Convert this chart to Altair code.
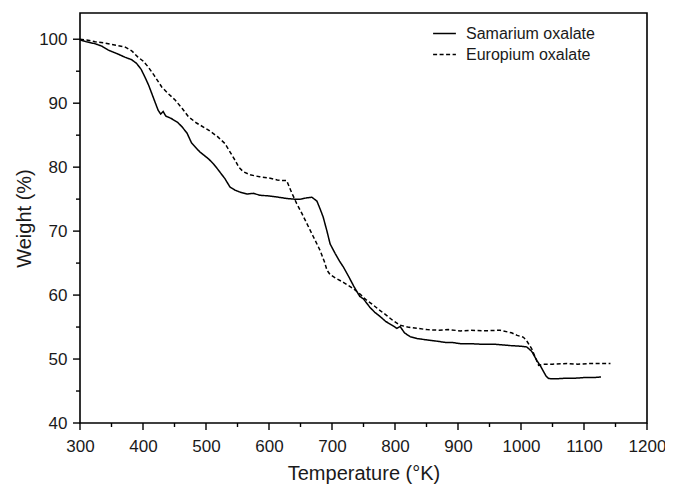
import altair as alt
import pandas as pd

# Samarium oxalate (solid line)
sm_temp = [300, 310, 324, 335, 345, 360, 371, 382, 390, 397, 403, 409, 414, 419, 424, 428,
           432, 436, 445, 455, 462, 470, 477, 490, 504, 512, 520, 530, 538, 546, 554, 565,
           575, 586, 600, 615, 628, 640, 650, 660, 668, 676, 681, 686, 692, 697, 705, 712,
           718, 727, 735, 744, 750, 760, 768, 777, 785, 795, 803, 808, 815, 824, 835, 850,
           866, 880, 890, 904, 920, 940, 960, 983, 1000, 1009, 1017, 1025, 1031, 1036, 1040,
           1044, 1055, 1070, 1085, 1100, 1115, 1127]
sm_weight = [99.9, 99.6, 99.3, 98.9, 98.3, 97.7, 97.2, 96.8, 96.2, 95.3, 94.1, 92.8, 91.5, 90.2,
             88.9, 88.3, 88.7, 88.0, 87.6, 87.0, 86.3, 85.3, 83.8, 82.4, 81.3, 80.5, 79.5, 78.2,
             76.9, 76.4, 76.1, 75.8, 75.9, 75.6, 75.5, 75.3, 75.1, 75.0, 75.0, 75.2, 75.3, 74.7,
             73.5, 72.2, 70.0, 68.0, 66.5, 65.3, 64.4, 62.8, 61.3, 59.8, 59.4, 58.1, 57.3, 56.6,
             55.9, 55.3, 54.8, 55.1, 54.1, 53.5, 53.2, 53.0, 52.8, 52.6, 52.6, 52.4, 52.4, 52.3,
             52.3, 52.1, 52.0, 51.9, 51.2, 49.8, 48.9, 48.0, 47.3, 46.95, 46.9, 47.0, 47.0, 47.1,
             47.1, 47.2]

# Europium oxalate (dashed line)
eu_temp = [300, 315, 324, 340, 355, 371, 382, 392, 400, 408, 418, 430, 440, 451, 462, 472, 485,
           504, 518, 530, 538, 546, 552, 559, 570, 585, 600, 613, 623, 628, 636, 644, 652, 660,
           670, 681, 688, 692, 697, 705, 718, 734, 745, 755, 766, 776, 787, 797, 808, 820, 835,
           851, 870, 885, 904, 920, 940, 967, 985, 994, 1004, 1010, 1017, 1023, 1028, 1035,
           1050, 1073, 1090, 1110, 1125, 1142]
eu_weight = [100.0, 99.8, 99.6, 99.4, 99.1, 98.8, 98.2, 97.2, 96.6, 95.7, 94.3, 92.5, 91.5, 90.5,
             89.2, 87.9, 86.9, 85.8, 84.8, 83.7, 82.4, 81.1, 80.0, 79.3, 78.8, 78.5, 78.3, 78.0,
             77.9, 77.9, 76.0, 74.3, 72.8, 71.2, 69.2, 67.0, 65.2, 63.9, 63.2, 62.7, 62.0, 61.0,
             60.1, 59.2, 58.4, 57.6, 56.8, 56.0, 55.3, 55.0, 54.8, 54.6, 54.5, 54.6, 54.4, 54.5,
             54.4, 54.5, 54.1, 53.7, 53.4, 52.7, 51.6, 50.2, 49.0, 49.2, 49.2, 49.3, 49.2, 49.3,
             49.3, 49.3]

series_names = ["Samarium oxalate", "Europium oxalate"]
x_major = list(range(300, 1201, 100))
x_minor = list(range(350, 1200, 100))
y_major = list(range(40, 101, 10))
y_minor = list(range(45, 101, 10))

df = pd.concat([
    pd.DataFrame({"T": sm_temp, "W": sm_weight, "s": series_names[0], "o": range(len(sm_temp))}),
    pd.DataFrame({"T": eu_temp, "W": eu_weight, "s": series_names[1], "o": range(len(eu_temp))}),
])

FONT = "Liberation Sans"
TXT = "#1a1a1a"
W, H = 567, 410

xscale = alt.Scale(domain=[300, 1200], nice=False, zero=False)
yscale = alt.Scale(domain=[40, 104.1], nice=False, zero=False)

xaxis = alt.Axis(title="Temperature (°K)", values=x_major, orient="bottom", zindex=0,
                 domain=False, ticks=False, tickSize=0, labelPadding=15, titlePadding=9,
                 labelFlush=False, format="d")
yaxis = alt.Axis(title="Weight (%)", values=y_major, orient="left", zindex=0,
                 domain=False, ticks=False, tickSize=0, labelPadding=13, titlePadding=4)

lines = alt.Chart(df).mark_line(color="black", strokeWidth=1.5).encode(
    x=alt.X("T:Q", scale=xscale, axis=xaxis),
    y=alt.Y("W:Q", scale=yscale, axis=yaxis),
    strokeDash=alt.StrokeDash("s:N", sort=series_names,
                              scale=alt.Scale(domain=series_names, range=[[1, 0], [4, 2.5]]),
                              legend=alt.Legend(title=None, orient="none", legendX=352, legendY=8,
                                                symbolType="stroke", symbolSize=520,
                                                symbolStrokeColor="black", symbolStrokeWidth=1.5,
                                                labelFontSize=16, labelFont=FONT, labelColor=TXT,
                                                labelOffset=9, rowPadding=-3)),
    order="o:Q",
    detail="s:N",
)

def xticks(vals, length):
    return alt.Chart(pd.DataFrame({"T": vals})).mark_rule(color="black", strokeWidth=1.4).encode(
        x=alt.X("T:Q", scale=xscale, axis=None),
        y=alt.value(H), y2=alt.value(H + length))

def yticks(vals, length):
    return alt.Chart(pd.DataFrame({"W": vals})).mark_rule(color="black", strokeWidth=1.4).encode(
        y=alt.Y("W:Q", scale=yscale, axis=None),
        x=alt.value(0), x2=alt.value(-length))

chart = alt.layer(
    lines, xticks(x_major, 7), xticks(x_minor, 4), yticks(y_major, 7), yticks(y_minor, 4)
).resolve_axis(x="independent", y="independent").properties(
    width=W, height=H,
    autosize=alt.AutoSizeParams(type="none"),
    padding={"left": 72, "top": 5, "right": 18, "bottom": 62},
    background="white",
).configure_view(
    stroke="black", strokeWidth=1.6
).configure_axis(
    grid=False,
    labelFont=FONT, labelFontSize=17, labelColor=TXT,
    titleFont=FONT, titleFontSize=20, titleFontWeight="normal", titleColor=TXT,
)

chart.save("out.html", embed_options={"renderer": "svg", "actions": False})
